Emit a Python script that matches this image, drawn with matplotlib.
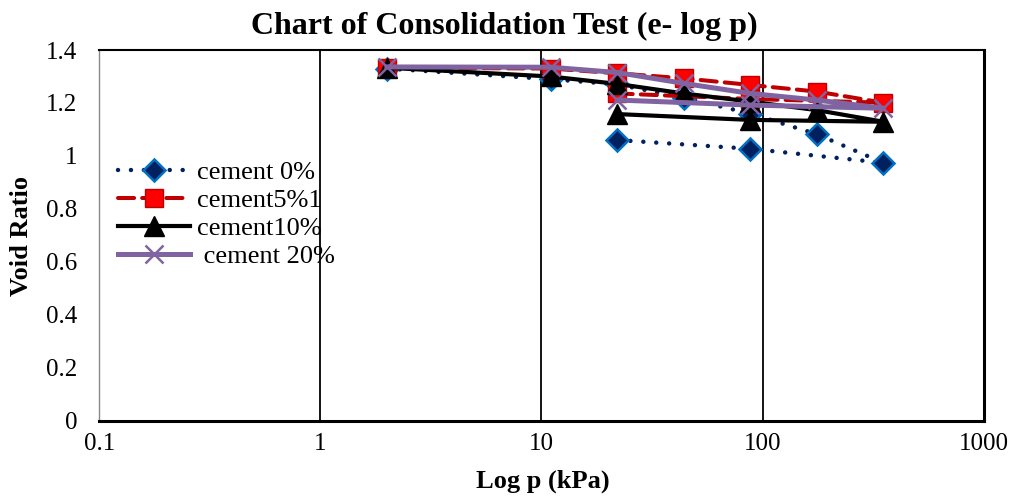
import numpy as np
import matplotlib
matplotlib.use("Agg")
import matplotlib.pyplot as plt

plt.rcParams['font.family'] = ['Liberation Serif', 'DejaVu Serif']

# applied pressure (kPa): loading 2 -> 352, then unloading back to 22
pressure = [2, 11, 22, 44, 88, 176, 352, 88, 22]

e_cement0 = [1.33, 1.29, 1.27, 1.22, 1.16, 1.082, 0.974, 1.027, 1.06]
e_cement5 = [1.333, 1.33, 1.312, 1.293, 1.268, 1.243, 1.201, 1.215, 1.236]
e_cement10 = [1.333, 1.30, 1.272, 1.236, 1.205, 1.173, 1.129, 1.136, 1.158]
e_cement20 = [1.336, 1.335, 1.315, 1.274, 1.236, 1.211, 1.18, 1.192, 1.211]

labels = ['cement 0%', 'cement5%1', 'cement10%', ' cement 20%']

x_ticks = [0.1, 1, 10, 100, 1000]
x_ticklabels = ['0.1', '1', '10', '100', '1000']
y_ticks = [0, 0.2, 0.4, 0.6, 0.8, 1, 1.2, 1.4]
y_ticklabels = ['0', '0.2', '0.4', '0.6', '0.8', '1', '1.2', '1.4']

W, H = 1018, 499
fig = plt.figure(figsize=(W / 100, H / 100), dpi=100)
ax = fig.add_axes([99.3 / W, 1 - 420.7 / H, (983.6 - 99.3) / W, (420.7 - 50) / H])

ax.plot(pressure, e_cement0, color='#002060', lw=3.2,
        linestyle=(0, (0.01, 2.9)), dash_capstyle='round',
        marker='D', ms=11, mfc='#002060', mec='#0070C0', mew=1.8,
        label=labels[0], zorder=3)
ax.plot(pressure, e_cement5, color='#C00000', lw=2.9,
        linestyle=(0, (4, 2)), dash_capstyle='round',
        marker='s', ms=13, mfc='#FF0000', mec='#C00000', mew=1.0,
        label=labels[1], zorder=4)
ax.plot(pressure, e_cement10, color='black', lw=3.0,
        marker='^', ms=14, mfc='black', mec='black',
        label=labels[2], zorder=5)
ax.plot(pressure, e_cement20, color='#8064A2', lw=3.6,
        marker='x', ms=13, mec='#8064A2', mew=1.8,
        label=labels[3], zorder=6)

ax.set_xscale('log')
ax.set_xlim(0.1, 1000)
ax.set_ylim(0, 1.4)
ax.set_xticks(x_ticks)
ax.set_xticklabels(x_ticklabels)
ax.minorticks_off()
ax.set_yticks(y_ticks)
ax.set_yticklabels(y_ticklabels)
ax.tick_params(axis='both', length=0, labelsize=18)
ax.tick_params(axis='x', pad=9)
ax.tick_params(axis='y', pad=16)

# vertical decade lines only
for xv in [1, 10, 100]:
    ax.axvline(xv, color='black', lw=1.3, zorder=1)

ax.spines['left'].set_color('#898989')
ax.spines['left'].set_linewidth(1.0)
ax.spines['top'].set_linewidth(1.5)
ax.spines['right'].set_linewidth(2.2)
ax.spines['bottom'].set_linewidth(2.2)

fig.text(504 / W, 1 - 26 / H, 'Chart of Consolidation Test (e- log p)',
         ha='center', va='center', fontsize=23, fontweight='bold')
fig.text(543 / W, 1 - 481 / H, 'Log p (kPa)', ha='center', va='center',
         fontsize=19, fontweight='bold')
fig.text(22 / W, 1 - 236 / H, 'Void Ratio', ha='center', va='center',
         rotation=90, fontsize=19, fontweight='bold')

ax.legend(loc='center left', bbox_to_anchor=(118 / W, 1 - 214.5 / H),
          bbox_transform=fig.transFigure, frameon=False, fontsize=19,
          handlelength=2.73, handletextpad=0.27, labelspacing=0.17,
          borderpad=0, borderaxespad=0, numpoints=1)

fig.savefig('out.png', dpi=100)
